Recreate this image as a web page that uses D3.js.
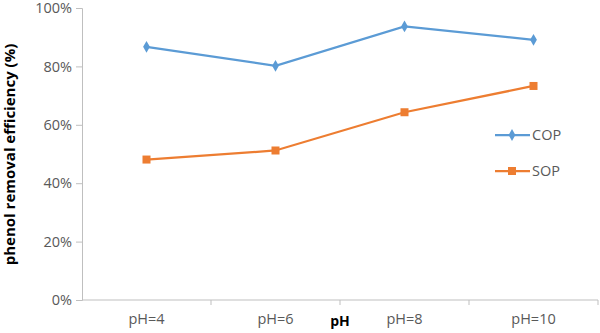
<!DOCTYPE html>
<html><head><meta charset="utf-8">
<script src="https://cdn.jsdelivr.net/npm/d3@7"></script>
<style>body{margin:0;background:#fff}svg{display:block}text{font-family:"Open Sans","Liberation Sans",sans-serif}</style>
</head><body>
<script>
const categories = ["pH=4","pH=6","pH=8","pH=10"];
const copValues = [0.867, 0.802, 0.937, 0.891];
const sopValues = [0.481, 0.512, 0.643, 0.733];
const yTicks = [0,0.2,0.4,0.6,0.8,1.0];
const seriesNames = ["COP","SOP"];

const W=600,H=333;
const svg=d3.select("body").append("svg").attr("width",W).attr("height",H);
const x0=82,x1=598,yTop=8,yBot=300;
const x=d3.scaleBand().domain(categories).range([x0,x1]).padding(0);
const y=d3.scaleLinear().domain([0,1]).range([yBot,yTop]);
const axisCol="#bfbfbf", txtCol="#595959";

// y axis
const ya=svg.append("g").attr("transform",`translate(${x0},0)`)
 .call(d3.axisLeft(y).tickValues(yTicks).tickFormat(d3.format(".0%")).tickSize(6).tickPadding(4));
ya.select(".domain").attr("stroke",axisCol);
ya.selectAll(".tick line").attr("stroke",axisCol);
ya.selectAll("text").attr("fill",txtCol).attr("font-size",14.5);

// x axis
const xa=svg.append("g").attr("transform",`translate(0,${yBot})`)
 .call(d3.axisBottom(x).tickSize(0).tickPadding(14));
xa.select(".domain").attr("stroke",axisCol).attr("d",`M${x0},0H${x1}`);
xa.selectAll("text").attr("fill",txtCol).attr("font-size",14.5);
// tick marks at band boundaries
svg.append("g").selectAll("line").data(categories).join("line")
 .attr("x1",d=>x(d)+x.bandwidth()).attr("x2",d=>x(d)+x.bandwidth())
 .attr("y1",yBot).attr("y2",yBot+5).attr("stroke",axisCol);

// axis titles
svg.append("text").attr("x",(x0+x1)/2).attr("y",326).attr("text-anchor","middle")
 .attr("font-weight","bold").attr("font-size",14).attr("fill","#000").text("pH");
svg.append("text").attr("transform",`translate(14.5,${(42+267)/2}) rotate(-90)`)
 .attr("text-anchor","middle").attr("font-weight","bold").attr("font-size",15).attr("fill","#000")
 .text("phenol removal efficiency (%)");

const line=d3.line().x((d,i)=>x(categories[i])+x.bandwidth()/2).y(d=>y(d));
const blue="#5B9BD5", orange="#ED7D31";
svg.append("path").attr("d",line(copValues)).attr("fill","none").attr("stroke",blue).attr("stroke-width",2.25);
svg.append("path").attr("d",line(sopValues)).attr("fill","none").attr("stroke",orange).attr("stroke-width",2.25);
const diamond=d3.symbol().type(d3.symbolDiamond).size(40);
svg.append("g").selectAll("path").data(copValues).join("path")
 .attr("transform",(d,i)=>`translate(${x(categories[i])+x.bandwidth()/2},${y(d)})`)
 .attr("d",diamond).attr("fill",blue);
svg.append("g").selectAll("rect").data(sopValues).join("rect")
 .attr("x",(d,i)=>x(categories[i])+x.bandwidth()/2-4).attr("y",d=>y(d)-4)
 .attr("width",8).attr("height",8).attr("fill",orange);

// legend
const lg=svg.append("g");
[[seriesNames[0],blue,135,"d"],[seriesNames[1],orange,171,"s"]].forEach(([n,c,ly,m])=>{
 lg.append("line").attr("x1",495).attr("x2",530).attr("y1",ly).attr("y2",ly).attr("stroke",c).attr("stroke-width",2.25);
 if(m==="d") lg.append("path").attr("transform",`translate(512,${ly})`).attr("d",diamond).attr("fill",c);
 else lg.append("rect").attr("x",508).attr("y",ly-4).attr("width",8).attr("height",8).attr("fill",c);
 lg.append("text").attr("x",532).attr("y",ly+5).attr("font-size",14.5).attr("fill",txtCol).text(n);
});
</script>
</body></html>
